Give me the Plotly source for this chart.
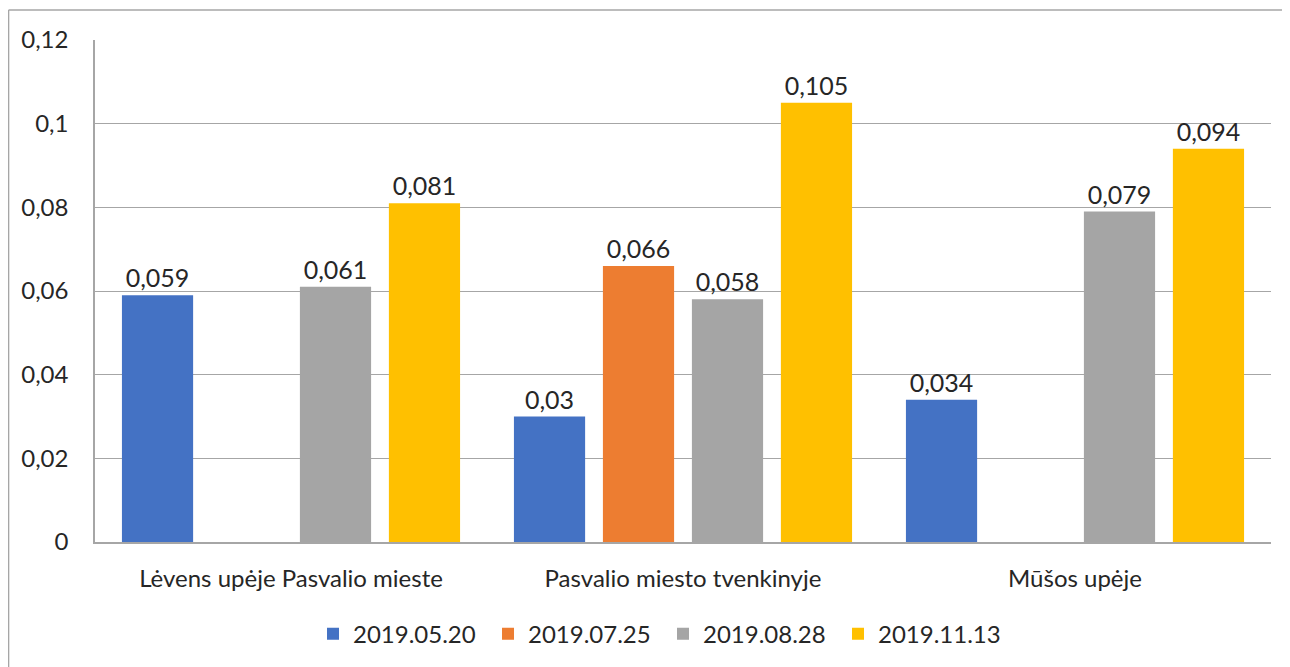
import plotly.graph_objects as go

categories = ["Lėvens upėje Pasvalio mieste", "Pasvalio miesto tvenkinyje", "Mūšos upėje"]
series_names = ["2019.05.20", "2019.07.25", "2019.08.28", "2019.11.13"]
v_0520 = [0.059, 0.030, 0.034]
v_0725 = [None, 0.066, None]
v_0828 = [0.061, 0.058, 0.079]
v_1113 = [0.081, 0.105, 0.094]
y_ticks = [0, 0.02, 0.04, 0.06, 0.08, 0.10, 0.12]
y_tick_labels = ["0", "0,02", "0,04", "0,06", "0,08", "0,1", "0,12"]

colors = ["#4472C4", "#ED7D31", "#A5A5A5", "#FFC000"]
values = [v_0520, v_0725, v_0828, v_1113]

FONT = "Lato, 'Open Sans', sans-serif"
TXT = "#262626"

def fmt(v):
    if v is None:
        return ""
    s = ("%.3f" % v).rstrip("0").rstrip(".")
    return s.replace(".", ",")

fig = go.Figure()
for name, vals, col in zip(series_names, values, colors):
    fig.add_trace(go.Bar(
        name=name, x=categories, y=vals,
        marker=dict(color=col, line=dict(width=40, color="rgba(0,0,0,0)")),
        text=[fmt(v) for v in vals], textposition="outside",
        textfont=dict(family=FONT, size=25, color=TXT),
        cliponaxis=False,
    ))

fig.update_layout(
    width=1282, height=659,
    margin=dict(l=87, r=19, t=32, b=124),
    paper_bgcolor="white", plot_bgcolor="white",
    barmode="group", bargap=0.092, bargroupgap=0.2,
    font=dict(family=FONT, size=24, color=TXT),
    showlegend=True,
    legend=dict(orientation="h", x=0.483, xanchor="center", y=-0.181, yanchor="middle",
                font=dict(family=FONT, size=24, color=TXT), entrywidth=130,
                itemclick=False),
    xaxis=dict(showgrid=False, showline=True, linecolor="#A6A6A6", linewidth=1.5,
               ticks="", ticklabelstandoff=14, tickfont=dict(family=FONT, size=24, color=TXT)),
    yaxis=dict(range=[0, 0.12], tickvals=y_ticks, ticktext=y_tick_labels,
               showgrid=True, gridcolor="#A6A6A6", gridwidth=1.2,
               showline=True, linecolor="#A6A6A6", linewidth=1.5, zeroline=False,
               ticks="", ticklabelstandoff=20, tickfont=dict(family=FONT, size=24, color=TXT)),
    shapes=[
        dict(type="line", xref="paper", yref="paper", x0=-0.0735, x1=1.2, y0=1.0596, y1=1.0596,
             line=dict(color="#A6A6A6", width=1.5)),
        dict(type="line", xref="paper", yref="paper", x0=-0.0735, x1=-0.0735, y0=-0.3, y1=1.0596,
             line=dict(color="#A6A6A6", width=1.5)),
    ],
)

fig.write_html("out.html")
